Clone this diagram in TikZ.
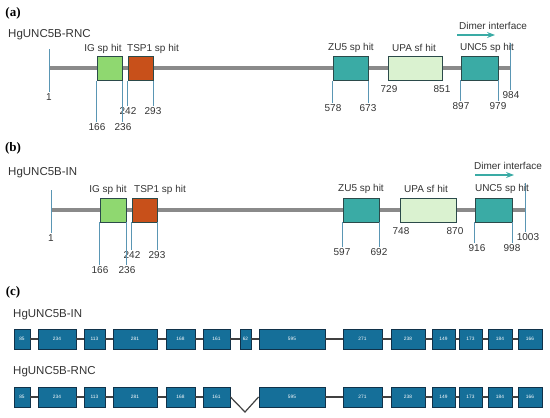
\documentclass[tikz,border=0pt]{standalone}
\usepackage{fontspec}
\setmainfont{Liberation Sans}
\newfontfamily\panelfont{Liberation Serif}
\usetikzlibrary{arrows.meta}

\definecolor{backbonegray}{HTML}{8A8A8A}
\definecolor{tickblue}{HTML}{5A96B4}
\definecolor{igc}{HTML}{8FD870}
\definecolor{tspc}{HTML}{C8501A}
\definecolor{tealc}{HTML}{3AABA5}
\definecolor{upac}{HTML}{DAF2D0}
\definecolor{domedge}{HTML}{2B4A4A}
\definecolor{exonc}{HTML}{156F99}
\definecolor{exonedge}{HTML}{10324A}
\definecolor{textgray}{HTML}{333333}

\begin{document}
\begin{tikzpicture}[x=1pt, y=-1pt, >=Stealth,
    backbone/.style={line width=3.5pt, backbonegray},
    tick/.style={line width=0.7pt, tickblue},
    dom/.style={draw=domedge, line width=0.8pt, fill=#1, minimum height=24pt, inner sep=0pt},
    hit/.style={font=\fontsize{10}{10}\selectfont, text=textgray, inner sep=1pt},
    num/.style={font=\fontsize{10}{10}\selectfont, text=textgray, inner sep=1pt},
    protname/.style={font=\fontsize{11.5}{12}\selectfont, text=textgray, anchor=west, inner sep=0pt},
    panel/.style={font=\panelfont\bfseries\fontsize{13}{13}\selectfont, inner sep=0pt},
    dimer/.style={->, line width=1.1pt, tealc},
    exon/.style={draw=exonedge, line width=0.9pt, fill=exonc, minimum height=20pt, inner sep=0pt,
        text=white, font=\fontsize{4.8}{5}\selectfont},
    intron/.style={line width=1.2pt, black!75}]
    \useasboundingbox (0,0) rectangle (550,418);

    % (a) HgUNC5B-RNC
    \node[panel] (pa) at (13,13) {(a)};
    \node[protname] (aname) at (8,35) {HgUNC5B-RNC};
    \coordinate (aS) at (49,68);
    \coordinate (aE) at (510,68);
    \draw[backbone] (aS) -- (aE);

    \coordinate (aT0) at (49,49);
    \node[num] (a1) at (49,97) {1};
    \draw[tick] (aT0) -- (a1.north);
    \coordinate (aT1) at (510,43);
    \node[num] (a984) at (511,95) {984};
    \draw[tick] (aT1) -- (aT1 |- a984.north);

    \node[num] (a166) at (97,127) {166};
    \node[num] (a236) at (123,127) {236};
    \node[num] (a242) at (128,111) {242};
    \node[num] (a293) at (153,111) {293};
    \node[num] (a578) at (333,108) {578};
    \node[num] (a673) at (368,108) {673};
    \node[num] (a729) at (389,89) {729};
    \node[num] (a851) at (442,89) {851};
    \node[num] (a897) at (461,106) {897};
    \node[num] (a979) at (498,106) {979};

    \node[dom=igc, minimum width=25pt] (aIG) at (109.5,68.5) {};
    \node[dom=tspc, minimum width=25pt] (aTSP) at (140.5,68.5) {};
    \node[dom=tealc, minimum width=35pt] (aZU) at (350.5,68.5) {};
    \node[dom=upac, minimum width=54pt] (aUPA) at (415,68.5) {};
    \node[dom=tealc, minimum width=37pt] (aUNC) at (479.5,68) {};

    \draw[tick] (aIG.south west) -- (aIG.south west |- a166.north);
    \draw[tick] (aIG.south east) -- (aIG.south east |- a236.north);
    \draw[tick] (aTSP.south west) -- (aTSP.south west |- a242.north);
    \draw[tick] (aTSP.south east) -- (aTSP.south east |- a293.north);
    \draw[tick] (aZU.south west) -- (aZU.south west |- a578.north);
    \draw[tick] (aZU.south east) -- (aZU.south east |- a673.north);
    \draw[tick] (aUNC.south west) -- (aUNC.south west |- a897.north);
    \draw[tick] (aUNC.south east) -- (aUNC.south east |- a979.north);

    \node[hit] (aIGl) at (103,49) {IG sp hit};
    \node[hit] (aTSPl) at (153,49) {TSP1 sp hit};
    \node[hit] (aZUl) at (351,48) {ZU5 sp hit};
    \node[hit] (aUPAl) at (414,48) {UPA sf hit};
    \node[hit] (aUNCl) at (487,48) {UNC5 sp hit};
    \node[hit] (adim) at (493,26) {Dimer interface};
    \coordinate (aDa) at (457,35);
    \coordinate (aDb) at (495,35);
    \draw[dimer] (aDa) -- (aDb);

    % (b) HgUNC5B-IN
    \node[panel] (pb) at (13,148) {(b)};
    \node[protname] (bname) at (8,173) {HgUNC5B-IN};
    \coordinate (bS) at (51,210);
    \coordinate (bE) at (525,210);
    \draw[backbone] (bS) -- (bE);

    \coordinate (bT0) at (51,190);
    \node[num] (b1) at (51,238) {1};
    \draw[tick] (bT0) -- (b1.north);
    \coordinate (bT1) at (525,183);
    \node[num] (b1003) at (528,237) {1003};
    \draw[tick] (bT1) -- (bT1 |- b1003.north);

    \node[num] (b166) at (100,270) {166};
    \node[num] (b236) at (127,270) {236};
    \node[num] (b242) at (132,255) {242};
    \node[num] (b293) at (157,255) {293};
    \node[num] (b597) at (342,252) {597};
    \node[num] (b692) at (379,252) {692};
    \node[num] (b748) at (401,231) {748};
    \node[num] (b870) at (455,231) {870};
    \node[num] (b916) at (477,248) {916};
    \node[num] (b998) at (512,248) {998};

    \node[dom=igc, minimum width=26pt] (bIG) at (113,210) {};
    \node[dom=tspc, minimum width=25pt] (bTSP) at (144.5,210) {};
    \node[dom=tealc, minimum width=36pt] (bZU) at (361,210) {};
    \node[dom=upac, minimum width=56pt] (bUPA) at (428,210) {};
    \node[dom=tealc, minimum width=37pt] (bUNC) at (493.5,210) {};

    \draw[tick] (bIG.south west) -- (bIG.south west |- b166.north);
    \draw[tick] (bIG.south east) -- (bIG.south east |- b236.north);
    \draw[tick] (bTSP.south west) -- (bTSP.south west |- b242.north);
    \draw[tick] (bTSP.south east) -- (bTSP.south east |- b293.north);
    \draw[tick] (bZU.south west) -- (bZU.south west |- b597.north);
    \draw[tick] (bZU.south east) -- (bZU.south east |- b692.north);
    \draw[tick] (bUNC.south west) -- (bUNC.south west |- b916.north);
    \draw[tick] (bUNC.south east) -- (bUNC.south east |- b998.north);

    \node[hit] (bIGl) at (108,190) {IG sp hit};
    \node[hit] (bTSPl) at (160,190) {TSP1 sp hit};
    \node[hit] (bZUl) at (361,189) {ZU5 sp hit};
    \node[hit] (bUPAl) at (426,189) {UPA sf hit};
    \node[hit] (bUNCl) at (502,189) {UNC5 sp hit};
    \node[hit] (bdim) at (508,166) {Dimer interface};
    \coordinate (bDa) at (475,175);
    \coordinate (bDb) at (514,175);
    \draw[dimer] (bDa) -- (bDb);

    % (c) exon structure
    \node[panel] (pc) at (13,292) {(c)};
    \node[protname] (cin) at (13,315) {HgUNC5B-IN};
    \node[protname] (crnc) at (13,372) {HgUNC5B-RNC};

    \foreach \xa/\xb/\len [count=\i] in {14/30/85, 38/76/234, 84/105/113, 113/157/281,
        166/195/168, 203/230/161, 240/251/62, 259/325/595, 343/382/271, 391/425/238,
        432/455/149, 459/482/173, 488/512/184, 518/542/166} {
        \pgfmathsetmacro\w{\xb-\xa}
        \node[exon, minimum width=\w pt] (in\i) at ({(\xa+\xb)/2},339) {\len};
    }
    \foreach \i [count=\j from 2] in {1,...,13}
        \draw[intron] (in\i) -- (in\j);

    \foreach \xa/\xb/\len [count=\i] in {14/30/85, 38/76/234, 84/105/113, 113/157/281,
        166/195/168, 203/230/161, 259/325/595, 343/382/271, 391/425/238,
        432/455/149, 459/482/173, 488/512/184, 518/542/166} {
        \pgfmathsetmacro\w{\xb-\xa}
        \node[exon, minimum width=\w pt] (rn\i) at ({(\xa+\xb)/2},397) {\len};
    }
    \foreach \i/\j in {1/2,2/3,3/4,4/5,5/6,7/8,8/9,9/10,10/11,11/12,12/13}
        \draw[intron] (rn\i) -- (rn\j);
    \coordinate (rnV) at (245,412);
    \draw[intron] (rn6.east) -- (rnV) -- (rn7.west);

\end{tikzpicture}
\end{document}
